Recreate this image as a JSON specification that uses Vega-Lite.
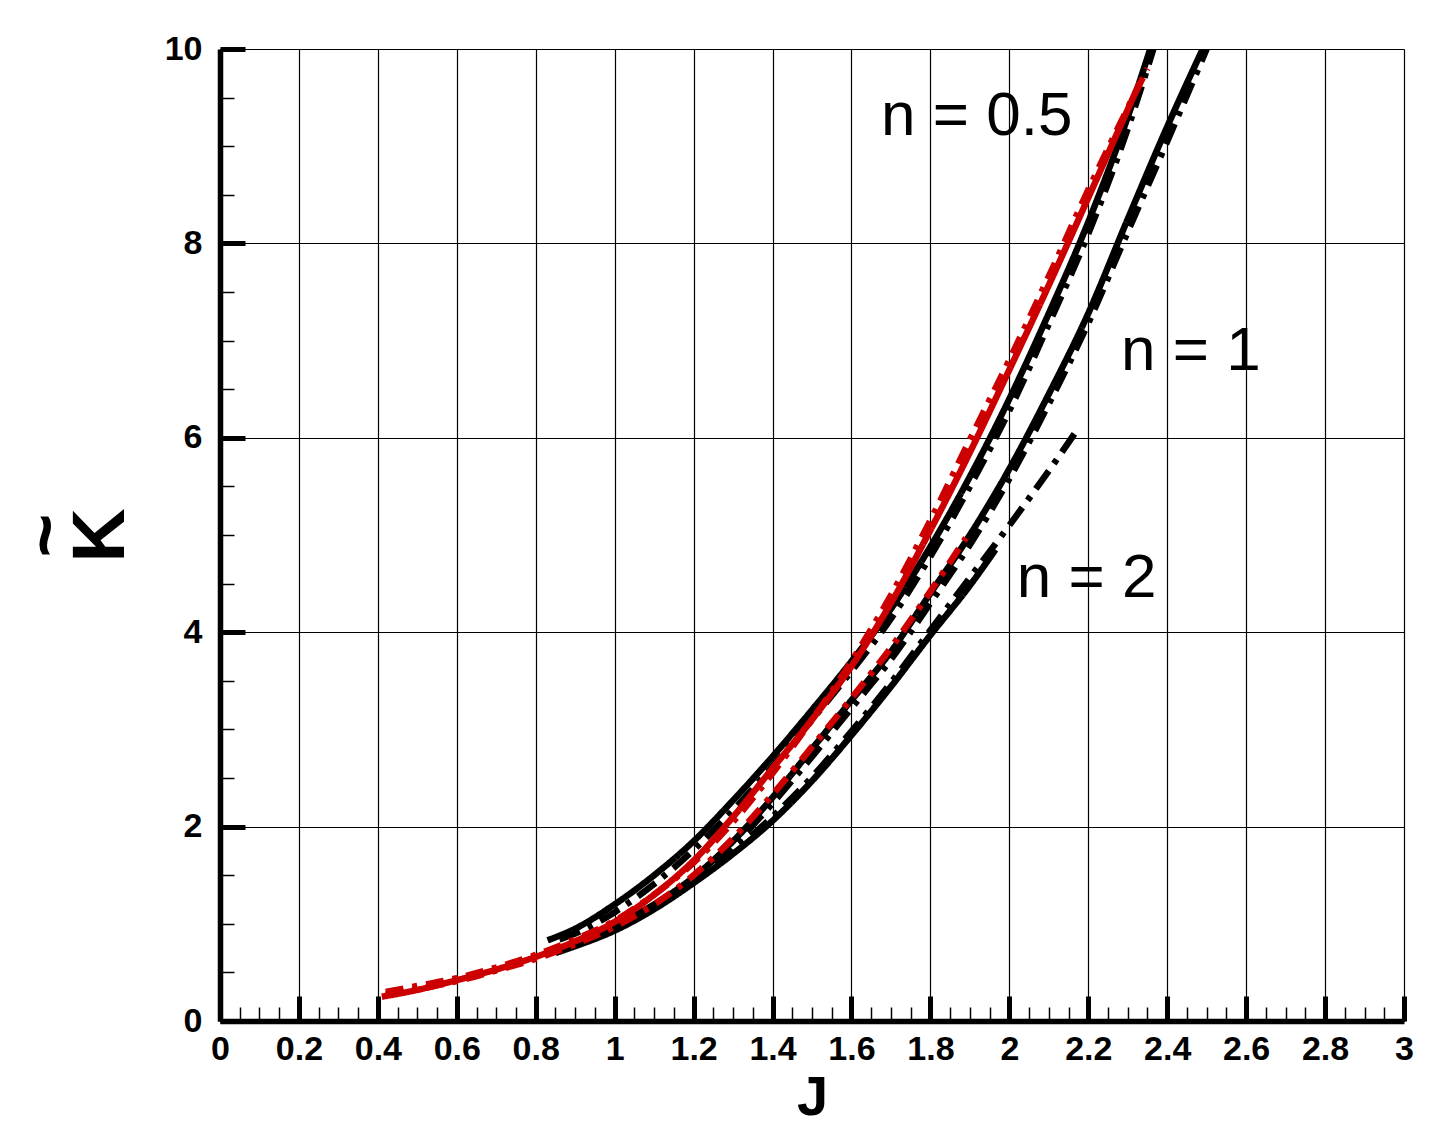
{
  "$schema": "https://vega.github.io/schema/vega-lite/v6.json",
  "width": 1184,
  "height": 972,
  "autosize": "none",
  "padding": {"left": 220, "top": 49, "right": 34, "bottom": 117},
  "background": "white",
  "config": {
    "font": "Liberation Sans",
    "view": {"stroke": null}
  },
  "datasets": {
    "curves": [
      {"s": "n2_black_solid", "J": 0.85, "K": 0.7},
      {"s": "n2_black_solid", "J": 0.9, "K": 0.77},
      {"s": "n2_black_solid", "J": 1.0, "K": 0.93},
      {"s": "n2_black_solid", "J": 1.1, "K": 1.15},
      {"s": "n2_black_solid", "J": 1.2, "K": 1.42},
      {"s": "n2_black_solid", "J": 1.3, "K": 1.72},
      {"s": "n2_black_solid", "J": 1.4, "K": 2.06},
      {"s": "n2_black_solid", "J": 1.5, "K": 2.47},
      {"s": "n2_black_solid", "J": 1.6, "K": 2.94},
      {"s": "n2_black_solid", "J": 1.7, "K": 3.44},
      {"s": "n2_black_solid", "J": 1.8, "K": 3.97},
      {"s": "n2_black_solid", "J": 1.9, "K": 4.48},
      {"s": "n2_black_solid", "J": 1.965, "K": 4.85},

      {"s": "n2_black_dashdot", "J": 0.86, "K": 0.72},
      {"s": "n2_black_dashdot", "J": 0.9, "K": 0.79},
      {"s": "n2_black_dashdot", "J": 1.0, "K": 0.95},
      {"s": "n2_black_dashdot", "J": 1.1, "K": 1.17},
      {"s": "n2_black_dashdot", "J": 1.2, "K": 1.44},
      {"s": "n2_black_dashdot", "J": 1.3, "K": 1.75},
      {"s": "n2_black_dashdot", "J": 1.4, "K": 2.1},
      {"s": "n2_black_dashdot", "J": 1.5, "K": 2.51},
      {"s": "n2_black_dashdot", "J": 1.6, "K": 2.98},
      {"s": "n2_black_dashdot", "J": 1.7, "K": 3.48},
      {"s": "n2_black_dashdot", "J": 1.8, "K": 4.02},
      {"s": "n2_black_dashdot", "J": 1.9, "K": 4.56},
      {"s": "n2_black_dashdot", "J": 2.0, "K": 5.1},
      {"s": "n2_black_dashdot", "J": 2.1, "K": 5.66},
      {"s": "n2_black_dashdot", "J": 2.17, "K": 6.07},

      {"s": "n1_black_solid", "J": 0.85, "K": 0.72},
      {"s": "n1_black_solid", "J": 0.9, "K": 0.8},
      {"s": "n1_black_solid", "J": 1.0, "K": 0.98},
      {"s": "n1_black_solid", "J": 1.1, "K": 1.2},
      {"s": "n1_black_solid", "J": 1.2, "K": 1.48},
      {"s": "n1_black_solid", "J": 1.3, "K": 1.85},
      {"s": "n1_black_solid", "J": 1.4, "K": 2.3},
      {"s": "n1_black_solid", "J": 1.5, "K": 2.8},
      {"s": "n1_black_solid", "J": 1.6, "K": 3.3},
      {"s": "n1_black_solid", "J": 1.7, "K": 3.8},
      {"s": "n1_black_solid", "J": 1.8, "K": 4.4},
      {"s": "n1_black_solid", "J": 1.9, "K": 5.0},
      {"s": "n1_black_solid", "J": 2.0, "K": 5.68},
      {"s": "n1_black_solid", "J": 2.1, "K": 6.45},
      {"s": "n1_black_solid", "J": 2.2, "K": 7.28},
      {"s": "n1_black_solid", "J": 2.3, "K": 8.25},
      {"s": "n1_black_solid", "J": 2.4, "K": 9.2},
      {"s": "n1_black_solid", "J": 2.49, "K": 10.0},

      {"s": "n1_black_dashdot", "J": 0.86, "K": 0.72},
      {"s": "n1_black_dashdot", "J": 0.9, "K": 0.78},
      {"s": "n1_black_dashdot", "J": 1.0, "K": 0.95},
      {"s": "n1_black_dashdot", "J": 1.1, "K": 1.17},
      {"s": "n1_black_dashdot", "J": 1.2, "K": 1.44},
      {"s": "n1_black_dashdot", "J": 1.3, "K": 1.8},
      {"s": "n1_black_dashdot", "J": 1.4, "K": 2.24},
      {"s": "n1_black_dashdot", "J": 1.5, "K": 2.72},
      {"s": "n1_black_dashdot", "J": 1.6, "K": 3.22},
      {"s": "n1_black_dashdot", "J": 1.7, "K": 3.72},
      {"s": "n1_black_dashdot", "J": 1.8, "K": 4.3},
      {"s": "n1_black_dashdot", "J": 1.9, "K": 4.9},
      {"s": "n1_black_dashdot", "J": 2.0, "K": 5.58},
      {"s": "n1_black_dashdot", "J": 2.1, "K": 6.35},
      {"s": "n1_black_dashdot", "J": 2.2, "K": 7.18},
      {"s": "n1_black_dashdot", "J": 2.3, "K": 8.12},
      {"s": "n1_black_dashdot", "J": 2.4, "K": 9.05},
      {"s": "n1_black_dashdot", "J": 2.5, "K": 10.0},

      {"s": "n05_black_solid", "J": 0.83, "K": 0.83},
      {"s": "n05_black_solid", "J": 0.9, "K": 0.95},
      {"s": "n05_black_solid", "J": 1.0, "K": 1.2},
      {"s": "n05_black_solid", "J": 1.1, "K": 1.5},
      {"s": "n05_black_solid", "J": 1.2, "K": 1.85},
      {"s": "n05_black_solid", "J": 1.3, "K": 2.27},
      {"s": "n05_black_solid", "J": 1.4, "K": 2.72},
      {"s": "n05_black_solid", "J": 1.5, "K": 3.2},
      {"s": "n05_black_solid", "J": 1.6, "K": 3.7},
      {"s": "n05_black_solid", "J": 1.7, "K": 4.24},
      {"s": "n05_black_solid", "J": 1.8, "K": 4.88},
      {"s": "n05_black_solid", "J": 1.9, "K": 5.6},
      {"s": "n05_black_solid", "J": 2.0, "K": 6.4},
      {"s": "n05_black_solid", "J": 2.1, "K": 7.28},
      {"s": "n05_black_solid", "J": 2.2, "K": 8.22},
      {"s": "n05_black_solid", "J": 2.3, "K": 9.3},
      {"s": "n05_black_solid", "J": 2.357, "K": 10.0},

      {"s": "n05_black_dashdot", "J": 0.86, "K": 0.84},
      {"s": "n05_black_dashdot", "J": 0.9, "K": 0.9},
      {"s": "n05_black_dashdot", "J": 1.0, "K": 1.12},
      {"s": "n05_black_dashdot", "J": 1.1, "K": 1.41},
      {"s": "n05_black_dashdot", "J": 1.2, "K": 1.76},
      {"s": "n05_black_dashdot", "J": 1.3, "K": 2.17},
      {"s": "n05_black_dashdot", "J": 1.4, "K": 2.62},
      {"s": "n05_black_dashdot", "J": 1.5, "K": 3.1},
      {"s": "n05_black_dashdot", "J": 1.6, "K": 3.6},
      {"s": "n05_black_dashdot", "J": 1.7, "K": 4.14},
      {"s": "n05_black_dashdot", "J": 1.8, "K": 4.78},
      {"s": "n05_black_dashdot", "J": 1.9, "K": 5.5},
      {"s": "n05_black_dashdot", "J": 2.0, "K": 6.28},
      {"s": "n05_black_dashdot", "J": 2.1, "K": 7.17},
      {"s": "n05_black_dashdot", "J": 2.2, "K": 8.1},
      {"s": "n05_black_dashdot", "J": 2.3, "K": 9.18},
      {"s": "n05_black_dashdot", "J": 2.365, "K": 10.0},

      {"s": "n1_red_dashdot", "J": 0.42, "K": 0.27},
      {"s": "n1_red_dashdot", "J": 0.5, "K": 0.33},
      {"s": "n1_red_dashdot", "J": 0.6, "K": 0.41},
      {"s": "n1_red_dashdot", "J": 0.7, "K": 0.52},
      {"s": "n1_red_dashdot", "J": 0.8, "K": 0.64},
      {"s": "n1_red_dashdot", "J": 0.9, "K": 0.79},
      {"s": "n1_red_dashdot", "J": 1.0, "K": 0.97},
      {"s": "n1_red_dashdot", "J": 1.1, "K": 1.2},
      {"s": "n1_red_dashdot", "J": 1.2, "K": 1.5},
      {"s": "n1_red_dashdot", "J": 1.3, "K": 1.88},
      {"s": "n1_red_dashdot", "J": 1.4, "K": 2.33},
      {"s": "n1_red_dashdot", "J": 1.5, "K": 2.82},
      {"s": "n1_red_dashdot", "J": 1.6, "K": 3.32},
      {"s": "n1_red_dashdot", "J": 1.7, "K": 3.84},
      {"s": "n1_red_dashdot", "J": 1.8, "K": 4.42},
      {"s": "n1_red_dashdot", "J": 1.89, "K": 4.97},

      {"s": "n05_red_solid", "J": 0.41, "K": 0.25},
      {"s": "n05_red_solid", "J": 0.5, "K": 0.32},
      {"s": "n05_red_solid", "J": 0.6, "K": 0.42},
      {"s": "n05_red_solid", "J": 0.7, "K": 0.53},
      {"s": "n05_red_solid", "J": 0.8, "K": 0.66},
      {"s": "n05_red_solid", "J": 0.9, "K": 0.82},
      {"s": "n05_red_solid", "J": 1.0, "K": 1.02},
      {"s": "n05_red_solid", "J": 1.1, "K": 1.3},
      {"s": "n05_red_solid", "J": 1.2, "K": 1.65},
      {"s": "n05_red_solid", "J": 1.3, "K": 2.1},
      {"s": "n05_red_solid", "J": 1.4, "K": 2.6},
      {"s": "n05_red_solid", "J": 1.5, "K": 3.1},
      {"s": "n05_red_solid", "J": 1.6, "K": 3.65},
      {"s": "n05_red_solid", "J": 1.7, "K": 4.3},
      {"s": "n05_red_solid", "J": 1.8, "K": 5.05},
      {"s": "n05_red_solid", "J": 1.9, "K": 5.85},
      {"s": "n05_red_solid", "J": 2.0, "K": 6.7},
      {"s": "n05_red_solid", "J": 2.1, "K": 7.57},
      {"s": "n05_red_solid", "J": 2.2, "K": 8.47},
      {"s": "n05_red_solid", "J": 2.33, "K": 9.65},

      {"s": "n05_red_dashdot", "J": 0.42, "K": 0.3},
      {"s": "n05_red_dashdot", "J": 0.5, "K": 0.36},
      {"s": "n05_red_dashdot", "J": 0.6, "K": 0.44},
      {"s": "n05_red_dashdot", "J": 0.7, "K": 0.55},
      {"s": "n05_red_dashdot", "J": 0.8, "K": 0.68},
      {"s": "n05_red_dashdot", "J": 0.9, "K": 0.84},
      {"s": "n05_red_dashdot", "J": 1.0, "K": 1.03},
      {"s": "n05_red_dashdot", "J": 1.1, "K": 1.3},
      {"s": "n05_red_dashdot", "J": 1.2, "K": 1.63},
      {"s": "n05_red_dashdot", "J": 1.3, "K": 2.05},
      {"s": "n05_red_dashdot", "J": 1.4, "K": 2.55},
      {"s": "n05_red_dashdot", "J": 1.5, "K": 3.1},
      {"s": "n05_red_dashdot", "J": 1.6, "K": 3.7},
      {"s": "n05_red_dashdot", "J": 1.7, "K": 4.38},
      {"s": "n05_red_dashdot", "J": 1.8, "K": 5.15},
      {"s": "n05_red_dashdot", "J": 1.9, "K": 5.98},
      {"s": "n05_red_dashdot", "J": 2.0, "K": 6.8},
      {"s": "n05_red_dashdot", "J": 2.1, "K": 7.66},
      {"s": "n05_red_dashdot", "J": 2.2, "K": 8.55},
      {"s": "n05_red_dashdot", "J": 2.35, "K": 9.8}
    ],
    "labels": [
      {"t": "n = 0.5", "J": 1.675, "K": 9.115},
      {"t": "n = 1", "J": 2.283, "K": 6.7},
      {"t": "n = 2", "J": 2.019, "K": 4.365}
    ]
  },
  "resolve": {"axis": {"x": "independent", "y": "independent"}},
  "layer": [
    {
      "data": {"name": "curves"},
      "mark": {"type": "line", "strokeWidth": 6.5, "interpolate": "monotone", "clip": true},
      "encoding": {
        "x": {
          "field": "J",
          "type": "quantitative",
          "scale": {"domain": [0, 3], "nice": false, "zero": false},
          "axis": {
            "orient": "bottom",
            "values": [0, 0.2, 0.4, 0.6, 0.8, 1, 1.2, 1.4, 1.6, 1.8, 2, 2.2, 2.4, 2.6, 2.8, 3],
            "format": "~g",
            "title": "J",
            "grid": true,
            "gridColor": "#000000",
            "gridWidth": 1.2,
            "gridOpacity": 1,
            "domainColor": "#000000",
            "domainWidth": 5.5,
            "tickColor": "#000000",
            "tickSize": -25,
            "tickWidth": 5,
            "labelFont": "Liberation Sans",
            "labelFontWeight": "bold",
            "labelFontSize": 34,
            "labelColor": "#000000",
            "labelPadding": 36,
            "labelFlush": false,
            "labelOverlap": false,
            "titleFont": "Liberation Sans",
            "titleFontSize": 56,
            "titleFontWeight": "bold",
            "titleColor": "#000000",
            "titlePadding": 4
          }
        },
        "y": {
          "field": "K",
          "type": "quantitative",
          "scale": {"domain": [0, 10], "nice": false, "zero": false},
          "axis": {
            "orient": "left",
            "values": [0, 2, 4, 6, 8, 10],
            "format": "d",
            "title": ["~", "K"],
            "grid": true,
            "gridColor": "#000000",
            "gridWidth": 1.2,
            "gridOpacity": 1,
            "domainColor": "#000000",
            "domainWidth": 5.5,
            "tickColor": "#000000",
            "tickSize": -25,
            "tickWidth": 5,
            "labelFont": "Liberation Sans",
            "labelFontWeight": "bold",
            "labelFontSize": 34,
            "labelColor": "#000000",
            "labelPadding": 43,
            "labelFlush": false,
            "labelOverlap": false,
            "titleFont": "Liberation Sans",
            "titleFontSize": 75,
            "titleFontWeight": "bold",
            "titleColor": "#000000",
            "titleAngle": -90,
            "titleLineHeight": 54,
            "titleAlign": "center",
            "titleBaseline": "bottom",
            "titleX": -135,
            "titleY": 486
          }
        },
        "detail": {"field": "s"},
        "color": {
          "field": "s",
          "type": "nominal",
          "legend": null,
          "scale": {
            "domain": ["n2_black_solid", "n2_black_dashdot", "n1_black_solid", "n1_black_dashdot", "n05_black_solid", "n05_black_dashdot", "n1_red_dashdot", "n05_red_solid", "n05_red_dashdot"],
            "range": ["#000000", "#000000", "#000000", "#000000", "#000000", "#000000", "#cc0000", "#cc0000", "#cc0000"]
          }
        },
        "strokeDash": {
          "field": "s",
          "type": "nominal",
          "legend": null,
          "scale": {
            "domain": ["n2_black_solid", "n2_black_dashdot", "n1_black_solid", "n1_black_dashdot", "n05_black_solid", "n05_black_dashdot", "n1_red_dashdot", "n05_red_solid", "n05_red_dashdot"],
            "range": [[1, 0], [22, 9, 5, 9], [1, 0], [22, 9, 5, 9], [1, 0], [22, 9, 5, 9], [18, 9, 5, 9], [1, 0], [18, 9, 5, 9]]
          }
        }
      }
    },
    {
      "data": {"name": "labels"},
      "mark": {"type": "text", "align": "left", "baseline": "alphabetic", "fontSize": 62, "font": "Liberation Sans", "color": "#000000"},
      "encoding": {
        "x": {
          "field": "J",
          "type": "quantitative",
          "axis": {
            "orient": "bottom",
            "values": [0, 0.05, 0.1, 0.15, 0.2, 0.25, 0.3, 0.35, 0.4, 0.45, 0.5, 0.55, 0.6, 0.65, 0.7, 0.75, 0.8, 0.85, 0.9, 0.95, 1, 1.05, 1.1, 1.15, 1.2, 1.25, 1.3, 1.35, 1.4, 1.45, 1.5, 1.55, 1.6, 1.65, 1.7, 1.75, 1.8, 1.85, 1.9, 1.95, 2, 2.05, 2.1, 2.15, 2.2, 2.25, 2.3, 2.35, 2.4, 2.45, 2.5, 2.55, 2.6, 2.65, 2.7, 2.75, 2.8, 2.85, 2.9, 2.95, 3],
            "labels": false,
            "grid": false,
            "domain": false,
            "tickColor": "#000000",
            "tickSize": -14,
            "tickWidth": 1.5,
            "title": null
          }
        },
        "y": {
          "field": "K",
          "type": "quantitative",
          "axis": {
            "orient": "left",
            "values": [0, 0.5, 1, 1.5, 2, 2.5, 3, 3.5, 4, 4.5, 5, 5.5, 6, 6.5, 7, 7.5, 8, 8.5, 9, 9.5, 10],
            "labels": false,
            "grid": false,
            "domain": false,
            "tickColor": "#000000",
            "tickSize": -14,
            "tickWidth": 1.5,
            "title": null
          }
        },
        "text": {"field": "t"}
      }
    }
  ]
}
